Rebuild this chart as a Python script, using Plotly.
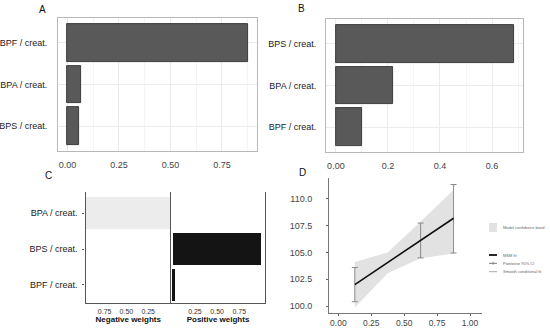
import plotly.graph_objects as go

# ---------------- data ----------------
cats_a = ["BPS / creat.", "BPA / creat.", "BPF / creat."]   # bottom -> top
vals_a = [0.056, 0.065, 0.877]

cats_b = ["BPF / creat.", "BPA / creat.", "BPS / creat."]   # bottom -> top
vals_b = [0.10, 0.218, 0.685]

cats_c = ["BPF / creat.", "BPS / creat.", "BPA / creat."]   # bottom -> top
neg_w = [0.0, 0.0, 1.0]
pos_w = [0.02, 0.99, 0.0]

q_x = [0.125, 0.375, 0.625, 0.875]
band_hi = [104.1, 105.0, 107.9, 110.85]
band_lo = [99.85, 103.05, 104.45, 104.9]
msm_fit = [102.0, 104.05, 106.15, 108.2]

ci_x = [0.125, 0.625, 0.875]
ci_lo = [100.4, 104.5, 104.95]
ci_hi = [103.6, 107.75, 111.35]

ticks_a = [0, 0.25, 0.5, 0.75]
ticklab_a = ["0.00", "0.25", "0.50", "0.75"]
ticks_b = [0, 0.2, 0.4, 0.6]
ticklab_b = ["0.00", "0.2", "0.4", "0.6"]
ticks_c = [0.25, 0.5, 0.75]
ticklab_c = ["0.25", "0.50", "0.75"]
ticks_dx = [0, 0.25, 0.5, 0.75, 1.0]
ticklab_dx = ["0.00", "0.25", "0.50", "0.75", "1.00"]
ticks_dy = [100, 102.5, 105, 107.5, 110]
ticklab_dy = ["100.0", "102.5", "105.0", "107.5", "110.0"]

W, H = 550, 329
FONT = "Liberation Sans"

def px(x0, x1):
    return [x0 / W, x1 / W]

def py(top, bottom):
    return [1 - bottom / H, 1 - top / H]

fig = go.Figure()

# Panel A
fig.add_trace(go.Bar(x=vals_a, y=cats_a, orientation="h", width=0.9,
                     marker=dict(color="#595959", line=dict(color="#222222", width=0.8)),
                     xaxis="x", yaxis="y", showlegend=False))
# Panel B
fig.add_trace(go.Bar(x=vals_b, y=cats_b, orientation="h", width=0.9,
                     marker=dict(color="#595959", line=dict(color="#222222", width=0.8)),
                     xaxis="x2", yaxis="y2", showlegend=False))
# Panel C
fig.add_trace(go.Bar(x=neg_w, y=cats_c, orientation="h", width=0.9,
                     marker=dict(color="#ececec", line=dict(width=0)),
                     xaxis="x3", yaxis="y3", showlegend=False))
fig.add_trace(go.Bar(x=pos_w, y=cats_c, orientation="h", width=0.9,
                     marker=dict(color="#141414", line=dict(width=0)),
                     xaxis="x4", yaxis="y4", showlegend=False))
# Panel D
fig.add_trace(go.Scatter(x=q_x + q_x[::-1], y=band_hi + band_lo[::-1], fill="toself",
                         fillcolor="#e2e2e2", line=dict(width=0), mode="lines",
                         xaxis="x5", yaxis="y5", showlegend=False))
ci_mid = [(a + b) / 2 for a, b in zip(ci_lo, ci_hi)]
ci_half = [(b - a) / 2 for a, b in zip(ci_lo, ci_hi)]
fig.add_trace(go.Scatter(x=ci_x, y=ci_mid, mode="markers", marker=dict(size=0.1, color="rgba(0,0,0,0)"),
                         error_y=dict(type="data", array=ci_half, color="#8a8a8a", thickness=1, width=3),
                         xaxis="x5", yaxis="y5", showlegend=False))
fig.add_trace(go.Scatter(x=q_x, y=msm_fit, mode="lines", line=dict(color="#111111", width=1.6),
                         xaxis="x5", yaxis="y5", showlegend=False))

tickfont = dict(family=FONT, size=9, color="#444444")
catfont = dict(family=FONT, size=9, color="#222222")
box = dict(showline=True, mirror=True, linecolor="#b8b8b8", linewidth=1, automargin=False)
NA = dict(automargin=False)

fig.update_layout(
    width=W, height=H, margin=dict(l=0, r=0, t=0, b=0),
    paper_bgcolor="white", plot_bgcolor="white", bargap=0,
    font=dict(family=FONT),
    xaxis=dict(domain=px(58, 257), range=[-0.046, 0.92], tickvals=ticks_a, ticktext=ticklab_a,
               tickfont=tickfont, zeroline=False, ticks="", ticklabelstandoff=5,
               minor=dict(showgrid=True, gridcolor="#f4f4f4", gridwidth=0.6, tickvals=[0.125, 0.375, 0.625, 0.875]),
               showgrid=True, gridcolor="#ebebeb", gridwidth=0.8, **box),
    yaxis=dict(domain=py(18, 151), type="category", categoryorder="array", categoryarray=cats_a,
               range=[-0.6, 2.6], tickfont=catfont, showgrid=True, gridcolor="#ebebeb", gridwidth=0.8,
               ticks="", ticklabelstandoff=8, zeroline=False, **box),
    xaxis2=dict(domain=px(326, 523), range=[-0.038, 0.719], tickvals=ticks_b, ticktext=ticklab_b,
                tickfont=tickfont, zeroline=False, ticks="", ticklabelstandoff=5,
                minor=dict(showgrid=True, gridcolor="#f4f4f4", gridwidth=0.6, tickvals=[0.1, 0.3, 0.5, 0.7]),
                showgrid=True, gridcolor="#ebebeb", gridwidth=0.8, anchor="y2", **box),
    yaxis2=dict(domain=py(19, 152), type="category", categoryorder="array", categoryarray=cats_b,
                range=[-0.6, 2.6], tickfont=catfont, showgrid=True, gridcolor="#ebebeb", gridwidth=0.8,
                ticks="", ticklabelstandoff=7, zeroline=False, anchor="x2", **box),
    xaxis3=dict(domain=px(85.5, 171), range=[0.97, -0.012], tickvals=ticks_c, ticktext=ticklab_c,
                tickfont=dict(family=FONT, size=7, color="#333333"), zeroline=False, showgrid=False,
                ticks="", ticklabelstandoff=2, showline=True, linecolor="#555555", linewidth=1,
                title=dict(text="<b>Negative weights</b>", font=dict(family=FONT, size=8, color="#111111"), standoff=0),
                anchor="y3", **NA),
    yaxis3=dict(domain=py(192, 303), type="category", categoryorder="array", categoryarray=cats_c,
                range=[-0.513, 2.597], tickfont=catfont, showgrid=False, zeroline=False,
                ticks="outside", ticklen=2, tickcolor="#555555", ticklabelstandoff=3,
                showline=True, linecolor="#555555", linewidth=1.2, anchor="x3", **NA),
    xaxis4=dict(domain=px(171, 265), range=[-0.02, 1.04], tickvals=ticks_c, ticktext=ticklab_c,
                tickfont=dict(family=FONT, size=7, color="#333333"), zeroline=False, showgrid=False,
                ticks="", ticklabelstandoff=2, showline=True, linecolor="#555555", linewidth=1,
                title=dict(text="<b>Positive weights</b>", font=dict(family=FONT, size=8, color="#111111"), standoff=0),
                anchor="y4", **NA),
    yaxis4=dict(domain=py(192, 303), type="category", categoryorder="array", categoryarray=cats_c,
                range=[-0.513, 2.597], showticklabels=False, showgrid=False, zeroline=False, ticks="",
                showline=True, mirror=True, linecolor="#555555", linewidth=1.2, anchor="x4", **NA),
    xaxis5=dict(domain=px(329, 482), range=[-0.071, 1.091], tickvals=ticks_dx, ticktext=ticklab_dx,
                tickfont=dict(family=FONT, size=8.5, color="#444444"), zeroline=False, showgrid=False,
                ticks="outside", ticklen=2, tickcolor="#666666", ticklabelstandoff=0, showline=True,
                linecolor="#777777", linewidth=1, anchor="y5", **NA),
    yaxis5=dict(domain=py(178, 313), range=[99.346, 111.96], tickvals=ticks_dy, ticktext=ticklab_dy,
                tickfont=tickfont, zeroline=False, showgrid=False, ticks="outside", ticklen=2,
                tickcolor="#666666", ticklabelstandoff=12, showline=True, linecolor="#777777",
                linewidth=1, anchor="x5", **NA),
)

# panel letters
for letter, x, y in [("A", 42.5, 10), ("B", 301, 8), ("C", 48, 175), ("D", 302, 172)]:
    fig.add_annotation(text=letter, x=x / W, y=1 - y / H, xref="paper", yref="paper",
                       showarrow=False, font=dict(family=FONT, size=10, color="#111111"),
                       xanchor="center", yanchor="middle")

# legend for panel D (drawn manually, keys are tiny)
leg_font = dict(family=FONT, size=4, color="#666666")
fig.add_shape(type="rect", xref="paper", yref="paper", x0=489 / W, x1=497 / W,
              y0=1 - 232 / H, y1=1 - 223 / H, fillcolor="#e2e2e2", line=dict(width=0))
legend_items = [("Model confidence band", 227.5), ("MSM fit", 255), ("Pointwise 95% CI", 263.3),
                ("Smooth conditional fit", 271.7)]
for txt, y in legend_items:
    fig.add_annotation(text=txt, x=500.5 / W, y=1 - y / H, xref="paper", yref="paper",
                       showarrow=False, font=leg_font, xanchor="left", yanchor="middle")
fig.add_shape(type="line", xref="paper", yref="paper", x0=489 / W, x1=497 / W,
              y0=1 - 255 / H, y1=1 - 255 / H, line=dict(color="#111111", width=1.8))
fig.add_shape(type="line", xref="paper", yref="paper", x0=489 / W, x1=497 / W,
              y0=1 - 263.3 / H, y1=1 - 263.3 / H, line=dict(color="#777777", width=1))
fig.add_shape(type="line", xref="paper", yref="paper", x0=493 / W, x1=493 / W,
              y0=1 - 264.8 / H, y1=1 - 261.8 / H, line=dict(color="#777777", width=0.8))
fig.add_shape(type="line", xref="paper", yref="paper", x0=489 / W, x1=497 / W,
              y0=1 - 271.7 / H, y1=1 - 271.7 / H, line=dict(color="#aaaaaa", width=1))

fig.write_html("out.html", config={"displayModeBar": False},
               post_script="document.body.style.margin='0';document.body.style.padding='0';")
